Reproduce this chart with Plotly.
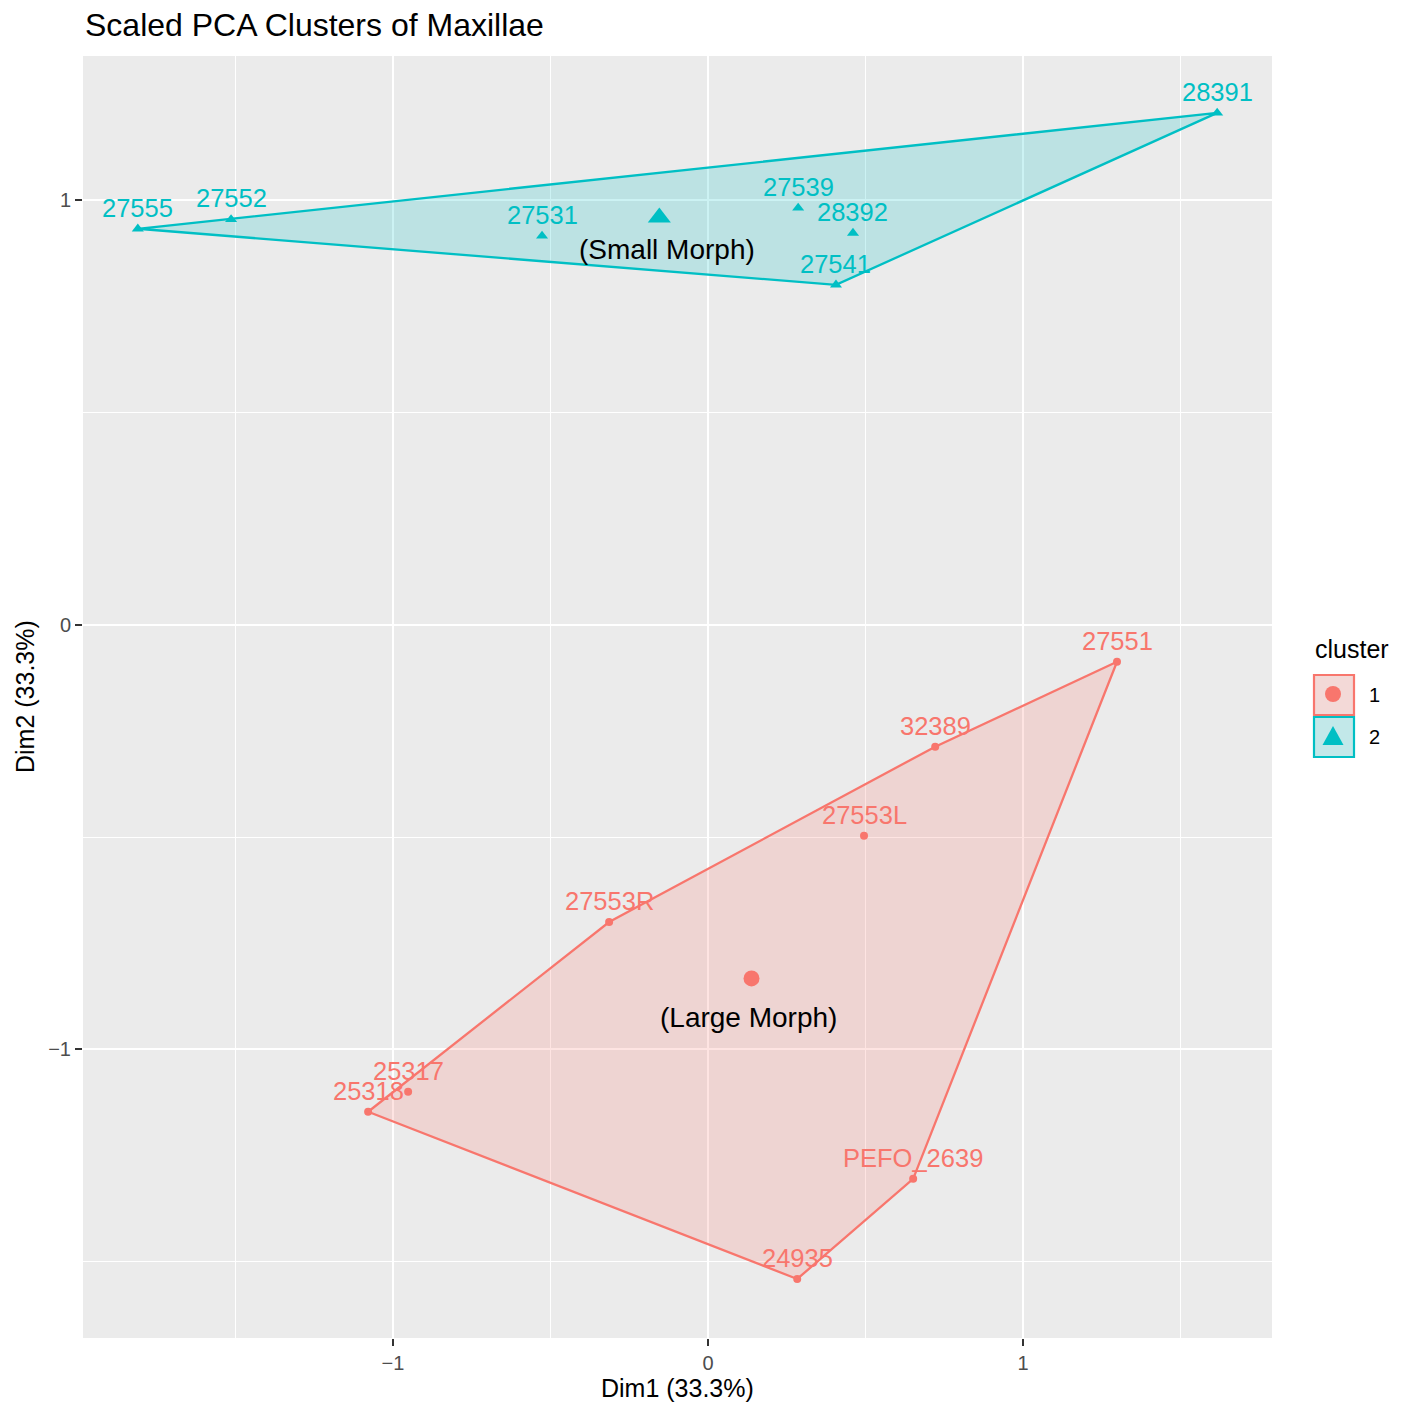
import plotly.graph_objects as go
import numpy as np

# ---------------- data ----------------
c1_labels = ["27551", "32389", "27553L", "27553R", "25317", "25318", "PEFO_2639", "24935"]
c1_x = [1.298, 0.721, 0.495, -0.314, -0.952, -1.079, 0.651, 0.283]
c1_y = [-0.087, -0.287, -0.497, -0.700, -1.100, -1.147, -1.305, -1.541]

c2_labels = ["28391", "27555", "27552", "27531", "27539", "28392", "27541"]
c2_x = [1.616, -1.810, -1.514, -0.527, 0.286, 0.460, 0.406]
c2_y = [1.206, 0.933, 0.955, 0.916, 0.982, 0.923, 0.801]

cluster_names = ["1", "2"]
morph_names = ["(Large Morph)", "(Small Morph)"]

x_ticks = [-1, 0, 1]
x_ticktext = ["\u22121", "0", "1"]
y_ticks = [-1, 0, 1]
y_ticktext = ["\u22121", "0", "1"]

RED = "#F8766D"
CYAN = "#00BFC4"
FONT = "Liberation Sans, Arial, Helvetica, sans-serif"

# page offset (browser body margin) and target pixel layout in the screenshot
OFF = 8
W, H = 1410 - OFF, 1405 - OFF
L, R, T, B = 83 - OFF, 1272 - OFF, 56 - OFF, 1338 - OFF


def px_x(p):
    return (p - OFF - L) / (R - L)


def px_y(p):
    return (B - (p - OFF)) / (B - T)


def convex_hull(xs, ys):
    pts = sorted(zip(xs, ys))

    def cross(o, a, b):
        return (a[0] - o[0]) * (b[1] - o[1]) - (a[1] - o[1]) * (b[0] - o[0])

    lower = []
    for p in pts:
        while len(lower) >= 2 and cross(lower[-2], lower[-1], p) <= 0:
            lower.pop()
        lower.append(p)
    upper = []
    for p in reversed(pts):
        while len(upper) >= 2 and cross(upper[-2], upper[-1], p) <= 0:
            upper.pop()
        upper.append(p)
    hull = lower[:-1] + upper[:-1]
    hull.append(hull[0])
    return [p[0] for p in hull], [p[1] for p in hull]


fig = go.Figure()

clusters = [
    (c1_x, c1_y, c1_labels, RED, "rgba(248,118,109,0.2)", "circle", 8, 16),
    (c2_x, c2_y, c2_labels, CYAN, "rgba(0,191,196,0.2)", "triangle-up", 10.5, 20),
]

# hulls
for xs, ys, labs, col, fillc, sym, ms, cms in clusters:
    hx, hy = convex_hull(xs, ys)
    fig.add_trace(go.Scatter(x=hx, y=hy, mode="lines", fill="toself",
                             fillcolor=fillc, line=dict(color=col, width=2.3),
                             hoverinfo="skip", showlegend=False))

# points + centroids
annotations = []
for (xs, ys, labs, col, fillc, sym, ms, cms), mname, cxs, cys in zip(
        clusters, morph_names, [[-3], [8]], [[39], [32]]):
    fig.add_trace(go.Scatter(x=xs, y=ys, mode="markers",
                             marker=dict(color=col, symbol=sym, size=ms, line=dict(width=0)),
                             showlegend=False))
    cx, cy = float(np.mean(xs)), float(np.mean(ys))
    fig.add_trace(go.Scatter(x=[cx], y=[cy], mode="markers",
                             marker=dict(color=col, symbol=sym, size=cms, line=dict(width=0)),
                             showlegend=False))
    for x, y, t in zip(xs, ys, labs):
        annotations.append(dict(x=x, y=y, text=t, showarrow=False, xref="x", yref="y",
                                yshift=21, font=dict(family=FONT, size=25.5, color=col)))
    annotations.append(dict(x=cx, y=cy, text=mname, showarrow=False, xref="x", yref="y",
                            xshift=cxs[0], yshift=-cys[0],
                            font=dict(family=FONT, size=28, color="black")))

# axis titles
annotations.append(dict(x=0.5, y=px_y(1388), xref="paper", yref="paper", text="Dim1 (33.3%)",
                        showarrow=False, font=dict(family=FONT, size=25, color="black"),
                        xanchor="center", yanchor="middle"))
annotations.append(dict(x=px_x(25), y=0.5, xref="paper", yref="paper", text="Dim2 (33.3%)",
                        showarrow=False, textangle=-90,
                        font=dict(family=FONT, size=25, color="black"),
                        xanchor="center", yanchor="middle"))

# manual legend (ggplot style)
annotations.append(dict(x=px_x(1313), y=px_y(649), xref="paper", yref="paper", text="cluster",
                        showarrow=False, xanchor="left", yanchor="middle",
                        font=dict(family=FONT, size=25, color="black")))
shapes = []
key_boxes = [(675, 715), (717, 757)]
key_fill = ["#F3D9D7", "#C2E8E9"]
key_col = [RED, CYAN]
for (y0, y1), fc, lc, name in zip(key_boxes, key_fill, key_col, cluster_names):
    shapes.append(dict(type="rect", xref="paper", yref="paper",
                       x0=px_x(1314), x1=px_x(1354), y0=px_y(y1), y1=px_y(y0),
                       fillcolor=fc, line=dict(color=lc, width=2.2), layer="above"))
    annotations.append(dict(x=px_x(1367), y=px_y((y0 + y1) / 2), xref="paper", yref="paper",
                            text=name, showarrow=False, xanchor="left", yanchor="middle",
                            font=dict(family=FONT, size=20, color="black")))
# key markers
shapes.append(dict(type="circle", xref="paper", yref="paper",
                   x0=px_x(1325), x1=px_x(1341), y0=px_y(702), y1=px_y(686),
                   fillcolor=RED, line=dict(width=0), layer="above"))
tri = "M {} {} L {} {} L {} {} Z".format(px_x(1322.5), px_y(745), px_x(1343.5), px_y(745),
                                         px_x(1333), px_y(726))
shapes.append(dict(type="path", xref="paper", yref="paper", path=tri,
                   fillcolor=CYAN, line=dict(width=0), layer="above"))

fig.update_layout(
    width=W, height=H,
    margin=dict(l=L, r=W - R, t=T, b=H - B, pad=0),
    paper_bgcolor="white",
    plot_bgcolor="#EBEBEB",
    title=dict(text="Scaled PCA Clusters of Maxillae", x=(85 - OFF) / W,
               xref="container", xanchor="left", y=1 - (25 - OFF) / H, yref="container",
               yanchor="middle",
               font=dict(family=FONT, size=32, color="black")),
    annotations=annotations,
    shapes=shapes,
    showlegend=False,
)

fig.update_xaxes(range=[-1.984, 1.790], tickmode="array", tickvals=x_ticks, ticktext=x_ticktext,
                 showgrid=True, gridcolor="white", gridwidth=2.4, zeroline=False,
                 ticks="outside", ticklen=7, tickwidth=2, tickcolor="#333333",
                 tickfont=dict(family=FONT, size=20, color="#4D4D4D"),
                 minor=dict(tickvals=[-1.5, -0.5, 0.5, 1.5], showgrid=True, gridcolor="white",
                            gridwidth=1.2, ticks=""),
                 showline=False, fixedrange=True)
fig.update_yaxes(range=[-1.680, 1.340], tickmode="array", tickvals=y_ticks, ticktext=y_ticktext,
                 showgrid=True, gridcolor="white", gridwidth=2.4, zeroline=False,
                 ticks="outside", ticklen=7, tickwidth=2, tickcolor="#333333",
                 tickfont=dict(family=FONT, size=20, color="#4D4D4D"),
                 minor=dict(tickvals=[-1.5, -0.5, 0.5], showgrid=True, gridcolor="white",
                            gridwidth=1.2, ticks=""),
                 showline=False, fixedrange=True)

fig.write_html("out.html")
